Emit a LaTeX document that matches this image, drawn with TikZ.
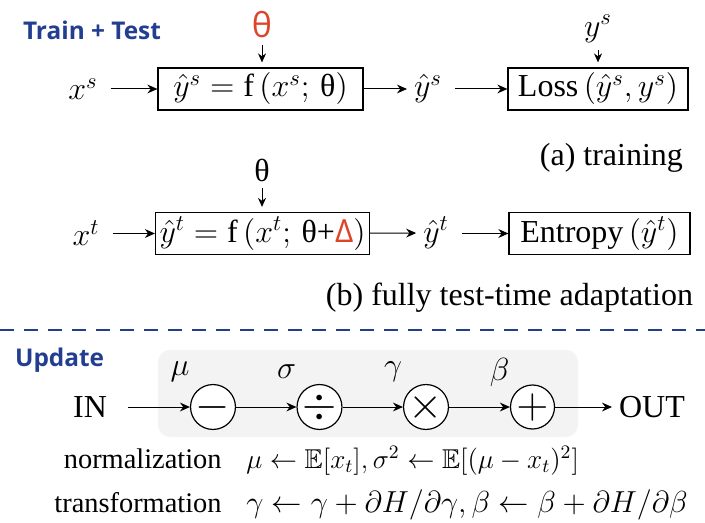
\RequirePackage{fix-cm}
\documentclass[tikz,border=0pt]{standalone}
\usepackage{amssymb}
\usepackage{fontspec}
\setmainfont{Liberation Serif}
\newfontfamily\headfont{Open Sans}
\usetikzlibrary{arrows.meta}

\definecolor{headblue}{RGB}{35,62,145}
\definecolor{thetared}{RGB}{222,68,40}
\definecolor{panelgray}{RGB}{243,243,243}
\newcommand{\uth}{\mbox{θ}}

\tikzset{
  box/.style={draw, line width=0.6pt, minimum height=21pt, inner sep=2pt},
  flow/.style={-{Stealth[length=5pt,width=4.4pt]}, line width=0.5pt},
  drop/.style={-{Stealth[length=4.5pt,width=4pt]}, line width=0.5pt, shorten >=2.5pt},
  opcirc/.style={draw, circle, line width=0.6pt, minimum size=22pt, inner sep=0pt,
    fill=white, font=\fontsize{22}{24}\selectfont},
  head/.style={font=\headfont\bfseries\fontsize{12.2}{14}\selectfont, text=headblue},
  sep/.style={draw=headblue, line width=1.3pt, dash pattern=on 7pt off 5pt},
  eqlbl/.style={anchor=base east, inner sep=0pt, font=\fontsize{14.2}{16}\selectfont},
  eqtxt/.style={anchor=base west, inner sep=0pt},
}

\begin{document}
\begin{tikzpicture}[x=0.5pt, y=-0.5pt, font=\fontsize{16}{19}\selectfont]
  \useasboundingbox (0,0) rectangle (705,523);

  % (a) training
  \node[head, anchor=west] (trainlbl) at (16,30) {Train + Test};
  \node[text=thetared, font=\headfont\fontsize{17}{19}\selectfont] (thA) at (262,25) {θ};
  \node (xs) at (83,89) {$x^s$};
  \node[box, minimum width=102.5pt] (fA) at (260.5,89) {$\hat{y}^s = \mathrm{f}\,(x^s;\,\uth)$};
  \node (ysh) at (428,89) {$\hat{y}^s$};
  \node[box, minimum width=90pt] (loss) at (598,89) {Loss\,$(\hat{y}^s, y^s)$};
  \node (ys) at (598,29) {$y^s$};
  \node[anchor=east] (capA) at (690,158) {(a) training};

  \draw[flow, shorten <=3pt] (xs.east |- fA) -- (fA.west);
  \draw[flow] (fA) -- (ysh);
  \draw[flow, shorten <=3pt] (ysh.east |- loss) -- (loss.west);
  \draw[drop] (thA) -- (thA |- fA.north);
  \draw[drop] (ys) -- (ys |- loss.north);

  % (b) fully test-time adaptation
  \node (thB) at (262,170) {\uth};
  \node (xt) at (86,233) {$x^t$};
  \node[box, minimum width=103.5pt] (fB) at (262.5,233.5)
    {$\hat{y}^t = \mathrm{f}\,(x^t;\,\uth\mbox{+}\mbox{\headfont\color{thetared}Δ})$};
  \node (yth) at (436,233) {$\hat{y}^t$};
  \node[box, minimum width=90.5pt] (ent) at (599.5,233.5) {Entropy\,$(\hat{y}^t)$};
  \node[anchor=east] (capB) at (700,298) {(b) fully test-time adaptation};

  \draw[flow, shorten <=3pt] (xt.east |- fB) -- (fB.west);
  \draw[flow] (fB) -- (yth);
  \draw[flow, shorten <=3pt] (yth.east |- ent) -- (ent.west);
  \draw[drop] (thB) -- (thB |- fB.north);

  % divider
  \coordinate (sepL) at (0,330);
  \coordinate (sepR) at (705,330);
  \draw[sep] (sepL) -- (sepR);

  % update
  \node[head, anchor=west] (updlbl) at (8,360) {Update};
  \fill[panelgray, rounded corners=6pt] (158,350) rectangle (578,437);
  \node (in) at (90,407) {IN};
  \foreach \nm/\op/\lbl [count=\i] in {sub/-/\mu, dv/\div/\sigma, mul/\times/\gamma, add/+/\beta} {
    \node[opcirc] (\nm) at (106.5*\i+106.5,407) {$\op$};
    \node (lbl\nm) at (106.5*\i+73.5,372) {$\lbl$};
  }
  \node[anchor=west] (out) at (612,407) {OUT};
  \draw[flow, shorten <=7pt] (in) -- (sub);
  \foreach \a/\b in {sub/dv, dv/mul, mul/add, add/out}
    \draw[flow] (\a) -- (\b);

  \node[eqlbl] (normlbl) at (222,468) {normalization};
  \node[eqtxt, font=\fontsize{13.6}{16}\selectfont] (normeq) at (246,468)
    {$\mu \leftarrow \mathbb{E}[x_t], \sigma^2 \leftarrow \mathbb{E}[(\mu - x_t)^2]$};
  \node[eqlbl] (trflbl) at (222,512) {transformation};
  \node[eqtxt, font=\fontsize{15.2}{18}\selectfont] (trfeq) at (246,512)
    {$\gamma \leftarrow \gamma + \partial H/\partial\gamma, \beta \leftarrow \beta + \partial H/\partial\beta$};
\end{tikzpicture}
\end{document}
